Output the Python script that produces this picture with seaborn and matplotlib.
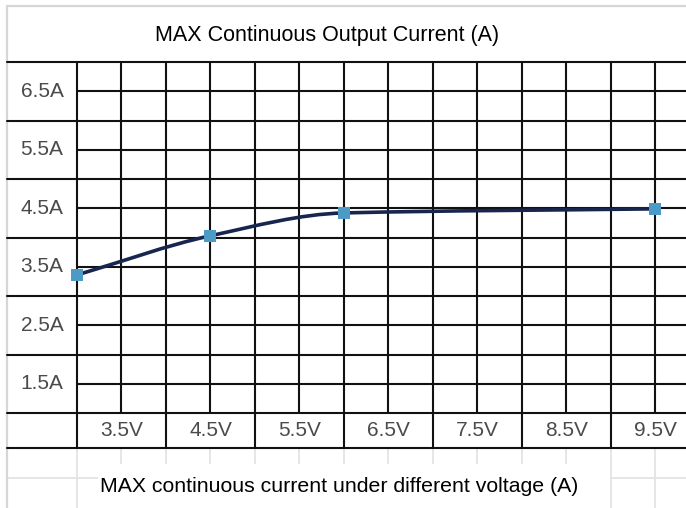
import matplotlib.pyplot as plt
import numpy as np
import seaborn as sns
from matplotlib.path import Path
from matplotlib.patches import PathPatch, Rectangle

# data
voltage = [3.0, 4.5, 6.0, 9.5]
current = [3.36, 4.03, 4.42, 4.49]
x_labels = ['3.5V', '4.5V', '5.5V', '6.5V', '7.5V', '8.5V', '9.5V']
x_label_pos = [3.5, 4.5, 5.5, 6.5, 7.5, 8.5, 9.5]
y_labels = ['6.5A', '5.5A', '4.5A', '3.5A', '2.5A', '1.5A']
y_label_pos = [6.5, 5.5, 4.5, 3.5, 2.5, 1.5]

title = 'MAX Continuous Output Current (A)'
caption = 'MAX continuous current under different voltage (A)'

sns.set_theme(style='white')
plt.rcParams['font.family'] = ['Liberation Sans', 'DejaVu Sans']

fig = plt.figure(figsize=(6.86, 5.08), dpi=100)
ax = fig.add_axes([0, 0, 1, 1])
ax.set_xlim(2.135, 9.843)
ax.set_ylim(-0.624, 8.06)
ax.axis('off')

x_left = 2.2135      # left edge of label column
row_bottom = 0.402   # bottom of voltage label row
x_right = 9.843
grid_c = '#111111'
lw = 1.5

# faint background lines under the table
faint = '#e2e2e2'
for v in np.arange(3.0, 10.0, 0.5):
    ax.plot([v, v], [-0.624, row_bottom], color=faint, lw=1.2, zorder=0)
ax.plot([x_left, x_right], [-0.11, -0.11], color=faint, lw=1.2, zorder=0)
ax.add_patch(Rectangle((3.236, -0.7), 5.754, 0.83, facecolor='white', edgecolor='none', zorder=1))

# outer light border
ax.plot([x_left, x_left], [-0.624, 7.95], color='#d6d6d6', lw=1.6, zorder=1)
ax.plot([x_left, x_right], [7.95, 7.95], color='#d6d6d6', lw=1.6, zorder=1)

# table grid
for v in np.arange(3.0, 10.0, 0.5):
    ax.plot([v, v], [1.0, 7.0], color=grid_c, lw=lw, zorder=2)
for v in np.arange(3.0, 10.0, 1.0):
    ax.plot([v, v], [row_bottom, 1.0], color=grid_c, lw=lw, zorder=2)
for a in np.arange(1.5, 7.0, 1.0):
    ax.plot([3.0, x_right], [a, a], color=grid_c, lw=lw, zorder=2)
for a in list(np.arange(1.0, 8.0, 1.0)) + [row_bottom]:
    ax.plot([x_left, x_right], [a, a], color=grid_c, lw=lw, zorder=2)

# labels in the table cells
for lab, pos in zip(x_labels, x_label_pos):
    ax.text(pos, (row_bottom + 1.0) / 2, lab, ha='center', va='center',
            fontsize=15, color='#4a4a4a', zorder=3)
for lab, pos in zip(y_labels, y_label_pos):
    ax.text((x_left + 3.0) / 2, pos, lab, ha='center', va='center',
            fontsize=15, color='#4a4a4a', zorder=3)

# smooth monotone curve through the points
x = np.array(voltage)
y = np.array(current)
d = np.diff(y) / np.diff(x)
m = np.zeros_like(x)
m[0], m[-1] = d[0], d[-1]
for i in range(1, len(x) - 1):
    if d[i - 1] * d[i] > 0:
        m[i] = 2 / (1 / d[i - 1] + 1 / d[i])
verts = [(x[0], y[0])]
codes = [Path.MOVETO]
for i in range(len(x) - 1):
    h = x[i + 1] - x[i]
    verts += [(x[i] + h / 3, y[i] + m[i] * h / 3),
              (x[i + 1] - h / 3, y[i + 1] - m[i + 1] * h / 3),
              (x[i + 1], y[i + 1])]
    codes += [Path.CURVE4] * 3
ax.add_patch(PathPatch(Path(verts, codes), facecolor='none', edgecolor='#17254f', lw=2.6, zorder=4))

sns.scatterplot(x=voltage, y=current, marker='s', s=75, color='#4b9bc6',
                edgecolor='none', ax=ax, zorder=5)
ax.set_xlim(2.135, 9.843)
ax.set_ylim(-0.624, 8.06)

fig.text(0.4774, 0.931, title, ha='center', va='center', fontsize=15.5, color='black')
fig.text(0.494, 0.0433, caption, ha='center', va='center', fontsize=15.3, color='black', zorder=6)

plt.savefig('out.png', dpi=100)
